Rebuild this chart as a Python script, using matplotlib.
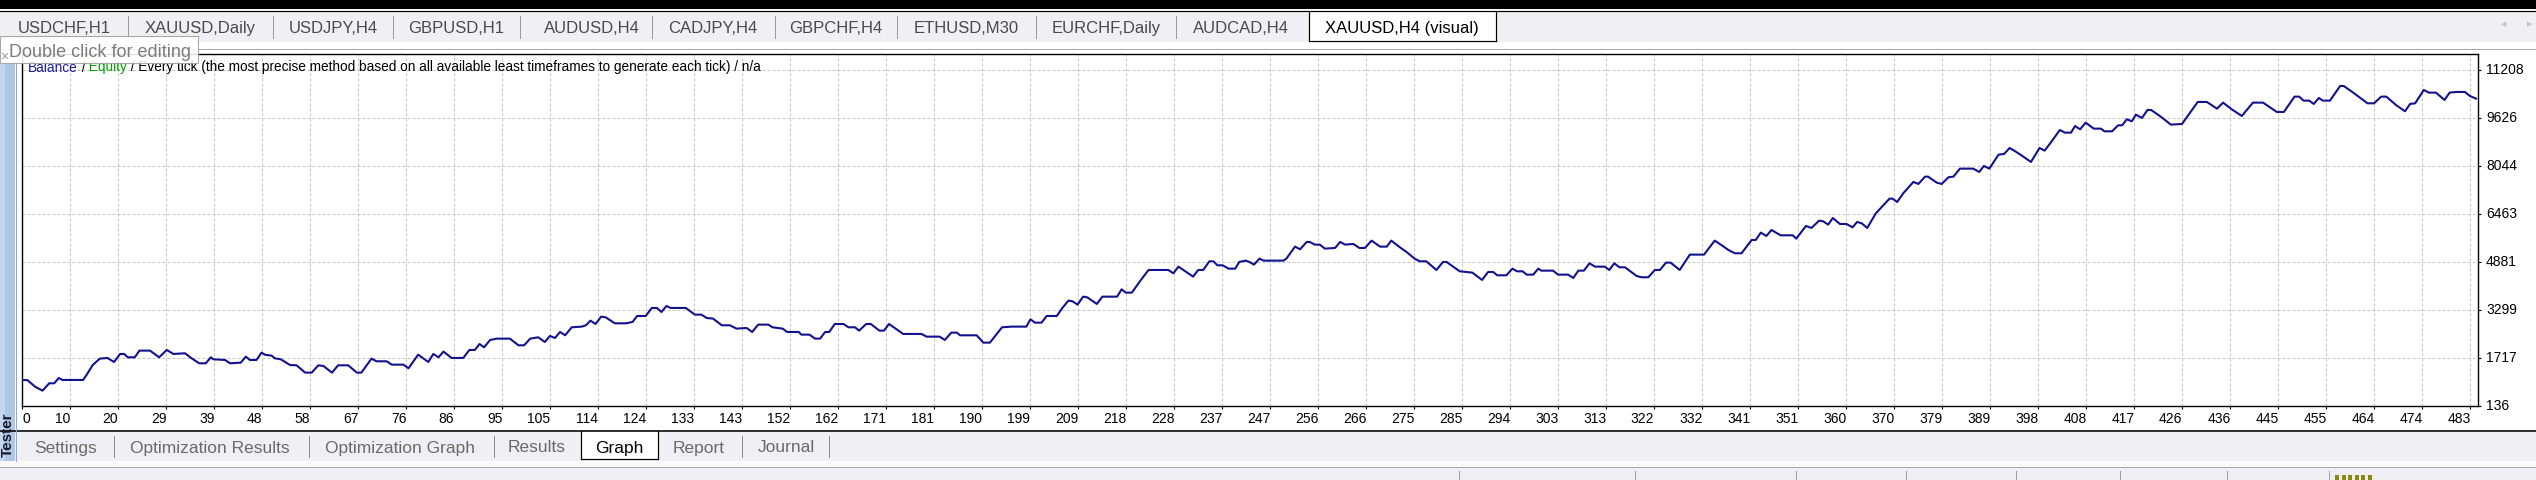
import matplotlib
matplotlib.use("Agg")
import matplotlib.pyplot as plt
from matplotlib.patches import Rectangle
from matplotlib.lines import Line2D
import numpy as np

plt.rcParams['font.family'] = ['Liberation Sans', 'DejaVu Sans']

# ---------------- data ----------------
trade = [0, 1, 2.5, 4.0, 5.3, 6.3, 7.2, 7.9, 12.0, 12.8, 13.9, 15.3, 16.8, 18.1, 19.3, 20.1, 20.8, 22.2,
         23.1, 25.2, 27.0, 28.5, 29.8, 32.1, 33.4, 34.9, 36.2, 37.2, 37.7, 40.0, 41.0, 43.1, 44.1, 44.9,
         46.2, 47.2, 48.0, 49.2, 49.8, 51.0, 52.8, 54.1, 55.8, 57.1, 58.4, 59.4, 61.1, 62.3, 64.3, 66.0,
         66.9, 68.9, 69.9, 71.9, 72.9, 75.2, 76.2, 78.1, 80.1, 81.1, 82.1, 83.1, 84.7, 87.0, 88.2, 89.3,
         90.2, 91.1, 92.3, 93.6, 96.2, 97.2, 97.9, 99.0, 100.2, 101.8, 103.1, 104.1, 105.1, 106.1, 107.1,
         108.4, 110.4, 111.2, 112.1, 113.1, 114.2, 115.1, 116.9, 119.1, 120.4, 121.3, 123.0, 124.2, 125.2,
         126.1, 127.1, 127.9, 130.9, 132.7, 134.0, 135.0, 136.3, 138.0, 139.6, 140.9, 142.9, 144.0, 145.2,
         147.2, 148.0, 150.0, 150.9, 153.2, 153.7, 155.3, 156.4, 157.4, 158.4, 159.2, 160.3, 162.0, 163.0,
         164.3, 165.1, 166.5, 167.4, 169.1, 170.0, 171.0, 172.5, 173.8, 177.4, 178.4, 181.0, 182.0, 183.3,
         184.4, 185.0, 188.3, 189.6, 190.9, 193.3, 195.2, 198.1, 198.9, 199.8, 201.1, 202.1, 204.1, 205.2,
         206.4, 207.2, 208.2, 209.3, 210.1, 212.0, 213.1, 216.0, 216.9, 217.7, 218.9, 220.8, 222.2, 226.1,
         227.1, 228.1, 231.0, 232.0, 233.0, 234.2, 235.0, 235.8, 236.8, 238.0, 239.3, 240.1, 241.4, 242.1,
         243.0, 244.1, 244.9, 248.8, 249.4, 251.1, 252.1, 253.4, 254.0, 255.0, 256.0, 257.0, 259.0, 260.0,
         261.0, 262.6, 263.8, 264.9, 266.2, 267.9, 269.2, 270.1, 271.8, 273.1, 274.7, 275.7, 277.0, 279.0,
         280.3, 281.0, 283.6, 286.1, 288.0, 289.2, 290.2, 291.0, 292.8, 294.0, 294.9, 296.0, 296.8, 298.1,
         299.1, 299.7, 302.0, 303.0, 305.0, 306.0, 307.0, 308.1, 309.2, 310.3, 312.2, 313.1, 314.1, 315.1,
         316.2, 318.5, 319.5, 320.8, 322.1, 323.1, 324.3, 325.2, 327.0, 329.0, 331.8, 333.9, 335.3, 336.6,
         337.9, 339.2, 341.2, 342.0, 343.0, 344.1, 345.1, 346.9, 349.3, 350.0, 351.9, 353.0, 354.5, 355.3,
         356.3, 357.2, 358.6, 359.9, 361.1, 362.0, 362.9, 364.0, 365.7, 368.4, 369.0, 369.9, 371.1, 373.1,
         374.1, 375.4, 376.0, 377.7, 378.7, 380.0, 381.0, 382.3, 384.9, 386.1, 387.0, 388.1, 389.9, 391.0,
         392.1, 393.2, 394.6, 396.3, 398.0, 399.0, 400.3, 402.0, 403.0, 404.2, 405.0, 406.0, 407.1, 408.7,
         410.1, 410.8, 412.3, 413.5, 414.3, 415.2, 416.2, 417.0, 418.2, 419.3, 420.0, 421.9, 423.9, 426.1,
         427.6, 429.2, 431.0, 433.0, 434.2, 436.1, 437.9, 440.1, 442.1, 444.8, 446.2, 448.3, 449.2, 450.1,
         451.2, 452.1, 453.1, 453.9, 455.3, 457.3, 458.0, 459.7, 462.7, 464.0, 465.4, 466.4, 468.4, 470.1,
         471.1, 472.1, 473.8, 474.8, 476.2, 477.9, 478.9, 480.2, 481.9, 482.9, 484.1]

balance = [1000, 1000, 784, 652, 894, 894, 1070, 1004, 1004, 1202, 1498, 1707, 1729, 1597, 1861, 1861, 1751,
           1751, 1971, 1971, 1751, 1993, 1861, 1883, 1718, 1553, 1553, 1751, 1685, 1663, 1553, 1575, 1773,
           1663, 1663, 1905, 1828, 1806, 1718, 1685, 1498, 1487, 1246, 1246, 1487, 1465, 1246, 1487, 1487,
           1246, 1246, 1707, 1619, 1619, 1509, 1509, 1388, 1839, 1597, 1861, 1751, 1938, 1729, 1729, 1993,
           1993, 2190, 2080, 2322, 2366, 2366, 2234, 2146, 2146, 2366, 2410, 2256, 2454, 2388, 2586, 2476,
           2740, 2762, 2806, 2959, 2849, 3091, 3069, 2871, 2871, 2915, 3113, 3113, 3377, 3377, 3245, 3443,
           3377, 3377, 3157, 3157, 3047, 3025, 2806, 2806, 2696, 2718, 2586, 2828, 2828, 2740, 2696, 2586,
           2586, 2498, 2498, 2366, 2366, 2586, 2586, 2849, 2849, 2740, 2740, 2630, 2849, 2849, 2630, 2630,
           2849, 2674, 2520, 2520, 2432, 2432, 2322, 2564, 2564, 2476, 2476, 2234, 2234, 2740, 2762, 2762,
           3003, 2893, 2893, 3113, 3113, 3377, 3619, 3597, 3487, 3750, 3728, 3509, 3750, 3750, 3992, 3882,
           3882, 4322, 4629, 4629, 4519, 4739, 4410, 4629, 4629, 4915, 4915, 4783, 4783, 4673, 4673, 4893,
           4937, 4893, 4805, 5003, 4937, 4937, 5003, 5398, 5310, 5552, 5552, 5464, 5464, 5332, 5354, 5552,
           5464, 5486, 5354, 5354, 5596, 5398, 5398, 5596, 5376, 5222, 5003, 4915, 4915, 4629, 4893, 4893,
           4585, 4541, 4300, 4563, 4563, 4453, 4453, 4673, 4585, 4585, 4475, 4475, 4673, 4607, 4607, 4475,
           4475, 4366, 4607, 4607, 4849, 4739, 4739, 4629, 4849, 4717, 4717, 4431, 4388, 4388, 4629, 4629,
           4871, 4871, 4629, 5135, 5135, 5596, 5442, 5288, 5179, 5179, 5618, 5618, 5860, 5750, 5948, 5772,
           5772, 5662, 6079, 6014, 6255, 6233, 6123, 6343, 6145, 6145, 6035, 6211, 6167, 6014, 6497, 6980,
           6980, 6870, 7156, 7530, 7464, 7705, 7705, 7508, 7464, 7683, 7705, 7969, 7969, 7859, 8057, 7969,
           8430, 8452, 8650, 8540, 8387, 8189, 8650, 8562, 8848, 9243, 9155, 9155, 9375, 9265, 9485, 9287,
           9287, 9199, 9199, 9397, 9397, 9595, 9529, 9749, 9639, 9903, 9903, 9683, 9419, 9441, 9793, 10166,
           10166, 9946, 10144, 9903, 9705, 10144, 10144, 9837, 9837, 10342, 10342, 10210, 10210, 10100,
           10298, 10210, 10210, 10694, 10694, 10496, 10122, 10122, 10342, 10342, 10056, 9859, 10100, 10122,
           10562, 10474, 10474, 10232, 10474, 10496, 10496, 10364, 10276]

x_tick_labels = [0, 10, 20, 29, 39, 48, 58, 67, 76, 86, 95, 105, 114, 124, 133, 143, 152, 162, 171, 181,
                 190, 199, 209, 218, 228, 237, 247, 256, 266, 275, 285, 294, 303, 313, 322, 332, 341, 351,
                 360, 370, 379, 389, 398, 408, 417, 426, 436, 445, 455, 464, 474, 483]
y_ticks = [136, 1717, 3299, 4881, 6463, 8044, 9626, 11208]

top_tabs = ["USDCHF,H1", "XAUUSD,Daily", "USDJPY,H4", "GBPUSD,H1", "AUDUSD,H4", "CADJPY,H4",
            "GBPCHF,H4", "ETHUSD,M30", "EURCHF,Daily", "AUDCAD,H4", "XAUUSD,H4 (visual)"]
bottom_tabs = ["Settings", "Optimization Results", "Optimization Graph", "Results", "Graph",
               "Report", "Journal"]
title_parts = [("Balance", "#1a1aa0"), (" /", "#000000"), (" Equity", "#00a000"),
               (" / Every tick (the most precise method based on all available least timeframes "
                "to generate each tick) / n/a", "#000000")]

# ---------------- figure / helpers (pixel layout) ----------------
W, H = 2536, 480
fig = plt.figure(figsize=(W / 100, H / 100), dpi=100)
fig.patch.set_facecolor('white')


def rect(x0, y0, x1, y1, color, z=-10, ec='none', lw=0.0, alpha=1.0):
    fig.add_artist(Rectangle((x0 / W, 1 - y1 / H), (x1 - x0) / W, (y1 - y0) / H,
                             transform=fig.transFigure, facecolor=color, edgecolor=ec,
                             linewidth=lw, zorder=z, alpha=alpha))


def hline(y, x0, x1, color, lw=1.0, z=-5):
    fig.add_artist(Line2D([x0 / W, x1 / W], [1 - y / H] * 2, transform=fig.transFigure,
                          color=color, lw=lw * 0.72, zorder=z))


def vline(x, y0, y1, color, lw=1.0, z=-5):
    fig.add_artist(Line2D([x / W] * 2, [1 - y0 / H, 1 - y1 / H], transform=fig.transFigure,
                          color=color, lw=lw * 0.72, zorder=z))


def ftext(x, y, s, **kw):
    return fig.text(x / W, 1 - y / H, s, **kw)


UI_BG = '#f0eff3'
# top strip + tab row
rect(0, 0, W, 8.5, 'black')
hline(10.8, 0, W, 'black', 1.2)
rect(0, 11.5, W, 42, UI_BG)
hline(49.3, 0, W, '#a8a8a8', 1.0)
top_seps = [128, 273, 393, 520, 652, 775, 897, 1036, 1176]
for xs in top_seps:
    vline(xs, 16, 38, '#9a9a9a', 1.0)
top_centers = [64, 200, 333, 456, 592, 713, 836, 966, 1106, 1241, 1402]
rect(1309, 11, 1496, 41, 'white', z=-6)
vline(1309, 11, 41, 'black', 1.2)
vline(1496, 11, 41, 'black', 1.2)
hline(41, 1309, 1496, 'black', 1.2)
for i, (lab, cx) in enumerate(zip(top_tabs, top_centers)):
    ftext(cx, 33.3, lab, ha='center', va='baseline', fontsize=12,
          color='black' if i == len(top_tabs) - 1 else '#4a4a4a')
ftext(2504, 24, '\u25C0', ha='center', va='center', fontsize=5, color='#c4c4c4',
      family=['DejaVu Sans'])
ftext(2530, 24, '\u25B6', ha='center', va='center', fontsize=5, color='#c4c4c4',
      family=['DejaVu Sans'])

# bottom tabs
hline(430.8, 0, W, 'black', 1.6)
rect(0, 431.5, W, 461, UI_BG)
rect(0, 461, W, 466.5, '#fbfbfd')
hline(467, 0, W, '#a8a8a8', 1.0)
rect(0, 467.5, W, 480, UI_BG)
for xs in [114, 309, 494, 742, 829]:
    vline(xs, 436, 457, '#8a8a8a', 1.0)
rect(581, 431, 658, 459, 'white', z=-6)
vline(581, 431, 459, 'black', 1.2)
vline(658, 431, 459, 'black', 1.2)
hline(459, 581, 658, 'black', 1.2)
bottom_centers = [66, 210, 400, 537, 619, 699, 786]
for lab, cx in zip(bottom_tabs, bottom_centers):
    ftext(cx, 452.5, lab, ha='center', va='baseline', fontsize=12.5,
          color='black' if lab == 'Graph' else '#6a6a6a')
for xs in [1459, 1635, 1796, 1906, 2016, 2120, 2227, 2329]:
    vline(xs, 471, 480, '#a0a0a0', 1.0)
for xs in np.arange(2335, 2374, 6.5):
    rect(xs, 475, xs + 4, 480, '#8a8a10', z=-4)

# left "Tester" bar
rect(0, 64, 15, 461, '#afc7e6')
rect(0, 64, 5, 461, '#c3d6ee', z=-9)
vline(15.5, 64, 461, '#8fa9cf', 1.0)
ftext(7.5, 435, 'Tester', rotation=90, ha='center', va='center', fontsize=11,
      fontweight='bold', color='#15182a')

# ---------------- chart ----------------
left, right, top, bottom = 22.3, 2478.0, 54.3, 406.3
ax = fig.add_axes([left / W, 1 - bottom / H, (right - left) / W, (bottom - top) / H])
ax.set_facecolor('white')
ax.plot(trade, balance, color='#12128e', lw=1.5, solid_joinstyle='round', zorder=3)

step = x_tick_labels[-1] / (len(x_tick_labels) - 1)
xpos = np.arange(len(x_tick_labels)) * step
ax.set_xlim(0, 484.5)
ax.set_ylim(y_ticks[0], 11737)
ax.set_xticks(xpos)
ax.set_xticklabels([str(v) for v in x_tick_labels])
ax.set_yticks(y_ticks)
ax.set_yticklabels([str(v) for v in y_ticks])
ax.yaxis.tick_right()
ax.tick_params(axis='x', direction='out', length=2.5, width=0.8, pad=1.6, labelsize=10,
               colors='black')
ax.tick_params(axis='y', direction='out', length=2.5, width=0.8, pad=3.2, labelsize=10,
               colors='black')
for lab in ax.get_xticklabels():
    lab.set_ha('right')
ax.get_xticklabels()[0].set_ha('left')
for lab in ax.get_yticklabels():
    lab.set_va('center')
ax.grid(True, color='#c4c4c4', linestyle=(0, (3, 2)), linewidth=0.72, zorder=0)
ax.set_axisbelow(True)
for sp in ax.spines.values():
    sp.set_color('black')
    sp.set_linewidth(1.0)

# title line inside the chart, fitted to its width in the picture
full = ''.join(p[0] for p in title_parts)
probe = ftext(28, 71.5, full, fontsize=10, va='baseline')
fig.canvas.draw()
wpx = probe.get_window_extent(fig.canvas.get_renderer()).width
probe.remove()
fs = 10 * 735 / wpx
prev = ftext(28, 71.5, title_parts[0][0], fontsize=fs, va='baseline',
             color=title_parts[0][1], zorder=4)
for s, c in title_parts[1:]:
    prev = ax.annotate(s, xy=(1, 0), xycoords=prev, va='bottom', ha='left', fontsize=fs,
                       color=c, annotation_clip=False, zorder=4)

# tooltip "Double click for editing"
rect(0, 36, 198, 63, 'white', z=6, ec='#9c9c9c', lw=0.8, alpha=0.88)
ftext(9, 56.7, 'Double click for editing', fontsize=13, va='baseline', ha='left',
      color='#7c7c7c', zorder=7)
ftext(4, 57, '\u00d7', fontsize=10, va='center', ha='center', color='#9a9a9a', zorder=7)

fig.savefig('out.png', dpi=100, facecolor=fig.get_facecolor())
